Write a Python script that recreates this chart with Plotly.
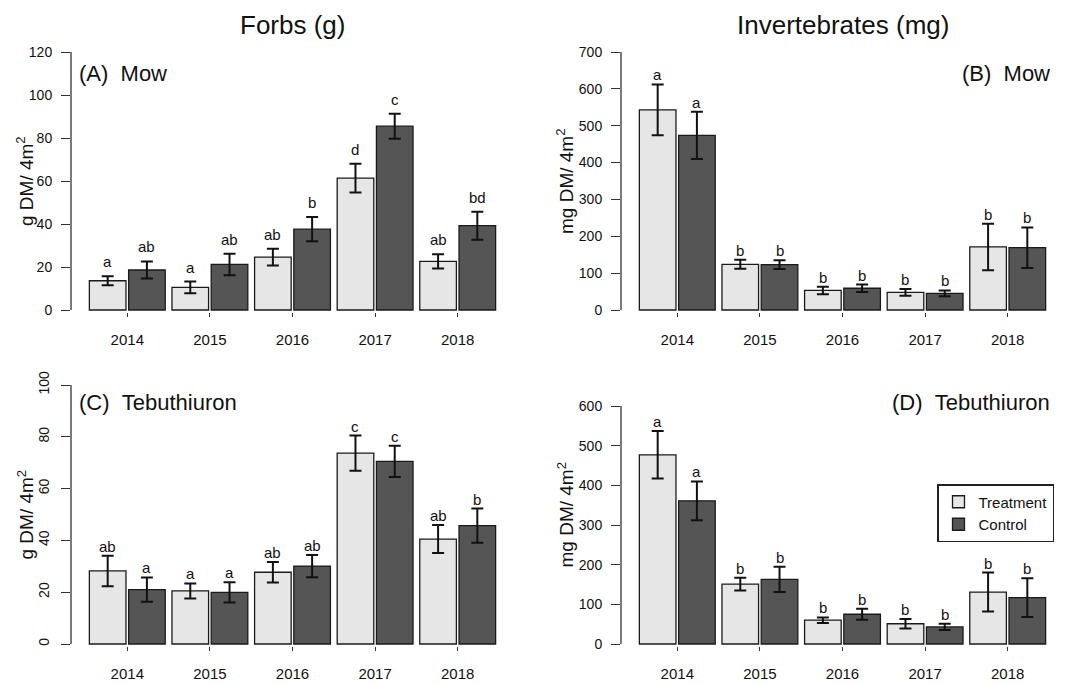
import plotly.graph_objects as go

# ---------------- data ----------------
years = ["2014", "2015", "2016", "2017", "2018"]

forbs_mow_trt = [13.6, 10.5, 24.6, 61.3, 22.6]
forbs_mow_trt_se = [2.1, 2.7, 3.9, 6.7, 3.3]
forbs_mow_ctl = [18.6, 21.2, 37.6, 85.5, 39.2]
forbs_mow_ctl_se = [4.0, 5.0, 5.6, 5.8, 6.5]
forbs_mow_trt_let = ["a", "a", "ab", "d", "ab"]
forbs_mow_ctl_let = ["ab", "ab", "b", "c", "bd"]

inv_mow_trt = [543, 124, 53, 48, 171]
inv_mow_trt_se = [69, 12, 10, 9, 63]
inv_mow_ctl = [474, 123, 59, 45, 169]
inv_mow_ctl_se = [64, 12, 10, 8, 55]
inv_mow_trt_let = ["a", "b", "b", "b", "b"]
inv_mow_ctl_let = ["a", "b", "b", "b", "b"]

forbs_teb_trt = [28.2, 20.5, 27.7, 73.7, 40.5]
forbs_teb_trt_se = [5.9, 2.9, 4.0, 6.8, 5.4]
forbs_teb_ctl = [21.0, 19.9, 30.1, 70.5, 45.7]
forbs_teb_ctl_se = [4.7, 3.9, 4.3, 6.0, 6.6]
forbs_teb_trt_let = ["ab", "a", "ab", "c", "ab"]
forbs_teb_ctl_let = ["a", "a", "ab", "c", "b"]

inv_teb_trt = [477, 151, 60, 51, 131]
inv_teb_trt_se = [60, 16, 7, 12, 49]
inv_teb_ctl = [361, 163, 75, 43, 117]
inv_teb_ctl_se = [49, 32, 14, 8, 49]
inv_teb_trt_let = ["a", "b", "b", "b", "b"]
inv_teb_ctl_let = ["a", "b", "b", "b", "b"]

col_titles = ["Forbs (g)", "Invertebrates (mg)"]
panel_labels = ["(A)\u00a0\u00a0Mow", "(B)\u00a0\u00a0Mow", "(C)\u00a0\u00a0Tebuthiuron", "(D)\u00a0\u00a0Tebuthiuron"]
y_titles = ["g DM/ 4m<sup>2</sup>", "mg DM/ 4m<sup>2</sup>", "g DM/ 4m<sup>2</sup>", "mg DM/ 4m<sup>2</sup>"]
y_tickvals = [[0, 20, 40, 60, 80, 100, 120],
              [0, 100, 200, 300, 400, 500, 600, 700],
              [0, 20, 40, 60, 80, 100],
              [0, 100, 200, 300, 400, 500, 600]]
y_tops = [120, 700, 100, 653]
series_names = ["Treatment", "Control"]

# ---------------- style / layout ----------------
W, H = 1087, 684
FONT = "Liberation Sans, Arial, Helvetica, sans-serif"
TXT = "#111111"
FILL = ["#e6e6e6", "#555555"]
cols = [(71, 514), (621, 1064)]
ytitle_x = [25, 565]
rows = [(52, 310), (385, 644)]
PAD = 1.5  # px below zero so the bar outlines are not clipped

panels = [
    (forbs_mow_trt, forbs_mow_trt_se, forbs_mow_ctl, forbs_mow_ctl_se, forbs_mow_trt_let, forbs_mow_ctl_let),
    (inv_mow_trt, inv_mow_trt_se, inv_mow_ctl, inv_mow_ctl_se, inv_mow_trt_let, inv_mow_ctl_let),
    (forbs_teb_trt, forbs_teb_trt_se, forbs_teb_ctl, forbs_teb_ctl_se, forbs_teb_trt_let, forbs_teb_ctl_let),
    (inv_teb_trt, inv_teb_trt_se, inv_teb_ctl, inv_teb_ctl_se, inv_teb_trt_let, inv_teb_ctl_let),
]
letter_shift = [4, -1, -1, -1]

fig = go.Figure()
annotations = []
shapes = []
layout_axes = {}

BARGAP = 0.05
BARGROUPGAP = 0.067
slot = (1 - BARGAP) / 2
offs = [-slot / 2, slot / 2]

for p, (t, tse, c, cse, tl, cl) in enumerate(panels):
    r, k = divmod(p, 2)
    x0, x1 = cols[k]
    y0, y1 = rows[r]
    sfx = "" if p == 0 else str(p + 1)
    xa, ya = "x" + sfx, "y" + sfx
    ytop = y_tops[p]
    ylow = -ytop * PAD / (y1 - y0)

    for j, (vals, se, lets) in enumerate([(t, tse, tl), (c, cse, cl)]):
        fig.add_trace(go.Bar(
            x=years, y=vals, name=series_names[j],
            xaxis=xa, yaxis=ya,
            marker=dict(color=FILL[j], line=dict(color="#1a1a1a", width=1.3)),
            error_y=dict(type="data", array=se, color="#111111", thickness=2, width=6),
            showlegend=(p == 3), legendgroup=series_names[j],
        ))
        for i, (v, e, L) in enumerate(zip(vals, se, lets)):
            annotations.append(dict(
                x=i + offs[j], y=v + e, xref=xa, yref=ya, text=L,
                showarrow=False, yanchor="bottom", xanchor="center",
                yshift=letter_shift[p],
                font=dict(family=FONT, size=15, color=TXT)))

    layout_axes["xaxis" + sfx] = dict(
        domain=[x0 / W, x1 / W], anchor=ya, type="category",
        range=[-0.5 - (1 - 2 * slot) / 2 - 0.1565, 4.5 + (1 - 2 * slot) / 2 + 0.1565],
        showline=False, showgrid=False, zeroline=False, automargin=False,
        ticks="outside", ticklen=4, tickwidth=1, tickcolor="#333",
        tickfont=dict(family=FONT, size=15, color=TXT), ticklabelstandoff=10,
    )
    layout_axes["yaxis" + sfx] = dict(
        domain=[1 - (y1 + PAD) / H, 1 - y0 / H], anchor=xa,
        range=[ylow, ytop], tickvals=y_tickvals[p],
        showline=False, showgrid=False, zeroline=False, automargin=False,
        ticks="outside", ticklen=9, tickwidth=1.2, tickcolor="#333",
        tickfont=dict(family=FONT, size=14, color=TXT), ticklabelstandoff=6,
        tickangle=-90 if p == 2 else 0,
    )
    shapes.append(dict(type="line", xref=xa + " domain", yref=ya,
                       x0=0, x1=0, y0=0, y1=y_tickvals[p][-1],
                       line=dict(color="#333", width=1.3)))

    # y title
    annotations.append(dict(
        x=ytitle_x[k] / W, y=1 - (y0 + y1) / 2 / H, xref="paper", yref="paper",
        text=y_titles[p], textangle=-90, showarrow=False,
        xanchor="center", yanchor="middle",
        font=dict(family=FONT, size=19, color=TXT)))
    # panel label
    ly = 73 if r == 0 else 402
    if k == 0:
        annotations.append(dict(x=77 / W, y=1 - ly / H, xref="paper", yref="paper",
                                text=panel_labels[p], showarrow=False,
                                xanchor="left", yanchor="middle",
                                font=dict(family=FONT, size=22, color=TXT)))
    else:
        annotations.append(dict(x=1052 / W, y=1 - ly / H, xref="paper", yref="paper",
                                text=panel_labels[p], showarrow=False,
                                xanchor="right", yanchor="middle",
                                font=dict(family=FONT, size=22, color=TXT)))

for k in range(2):
    x0, x1 = cols[k]
    annotations.append(dict(x=(x0 + x1) / 2 / W, y=1 - 25 / H, xref="paper", yref="paper",
                            text=col_titles[k], showarrow=False,
                            xanchor="center", yanchor="middle",
                            font=dict(family=FONT, size=26, color=TXT)))

fig.update_layout(
    width=W, height=H, autosize=False,
    margin=dict(l=0, r=0, t=0, b=0, autoexpand=False),
    paper_bgcolor="white", plot_bgcolor="white",
    barmode="group", bargap=BARGAP, bargroupgap=BARGROUPGAP,
    annotations=annotations, shapes=shapes,
    legend=dict(x=937 / W, y=1 - 484 / H, xanchor="left", yanchor="top",
                bordercolor="#222", borderwidth=1.5, bgcolor="white",
                font=dict(family=FONT, size=15, color=TXT),
                traceorder="normal", itemclick=False),
    font=dict(family=FONT, color=TXT),
    **layout_axes,
)

fig.write_html("out.html")
